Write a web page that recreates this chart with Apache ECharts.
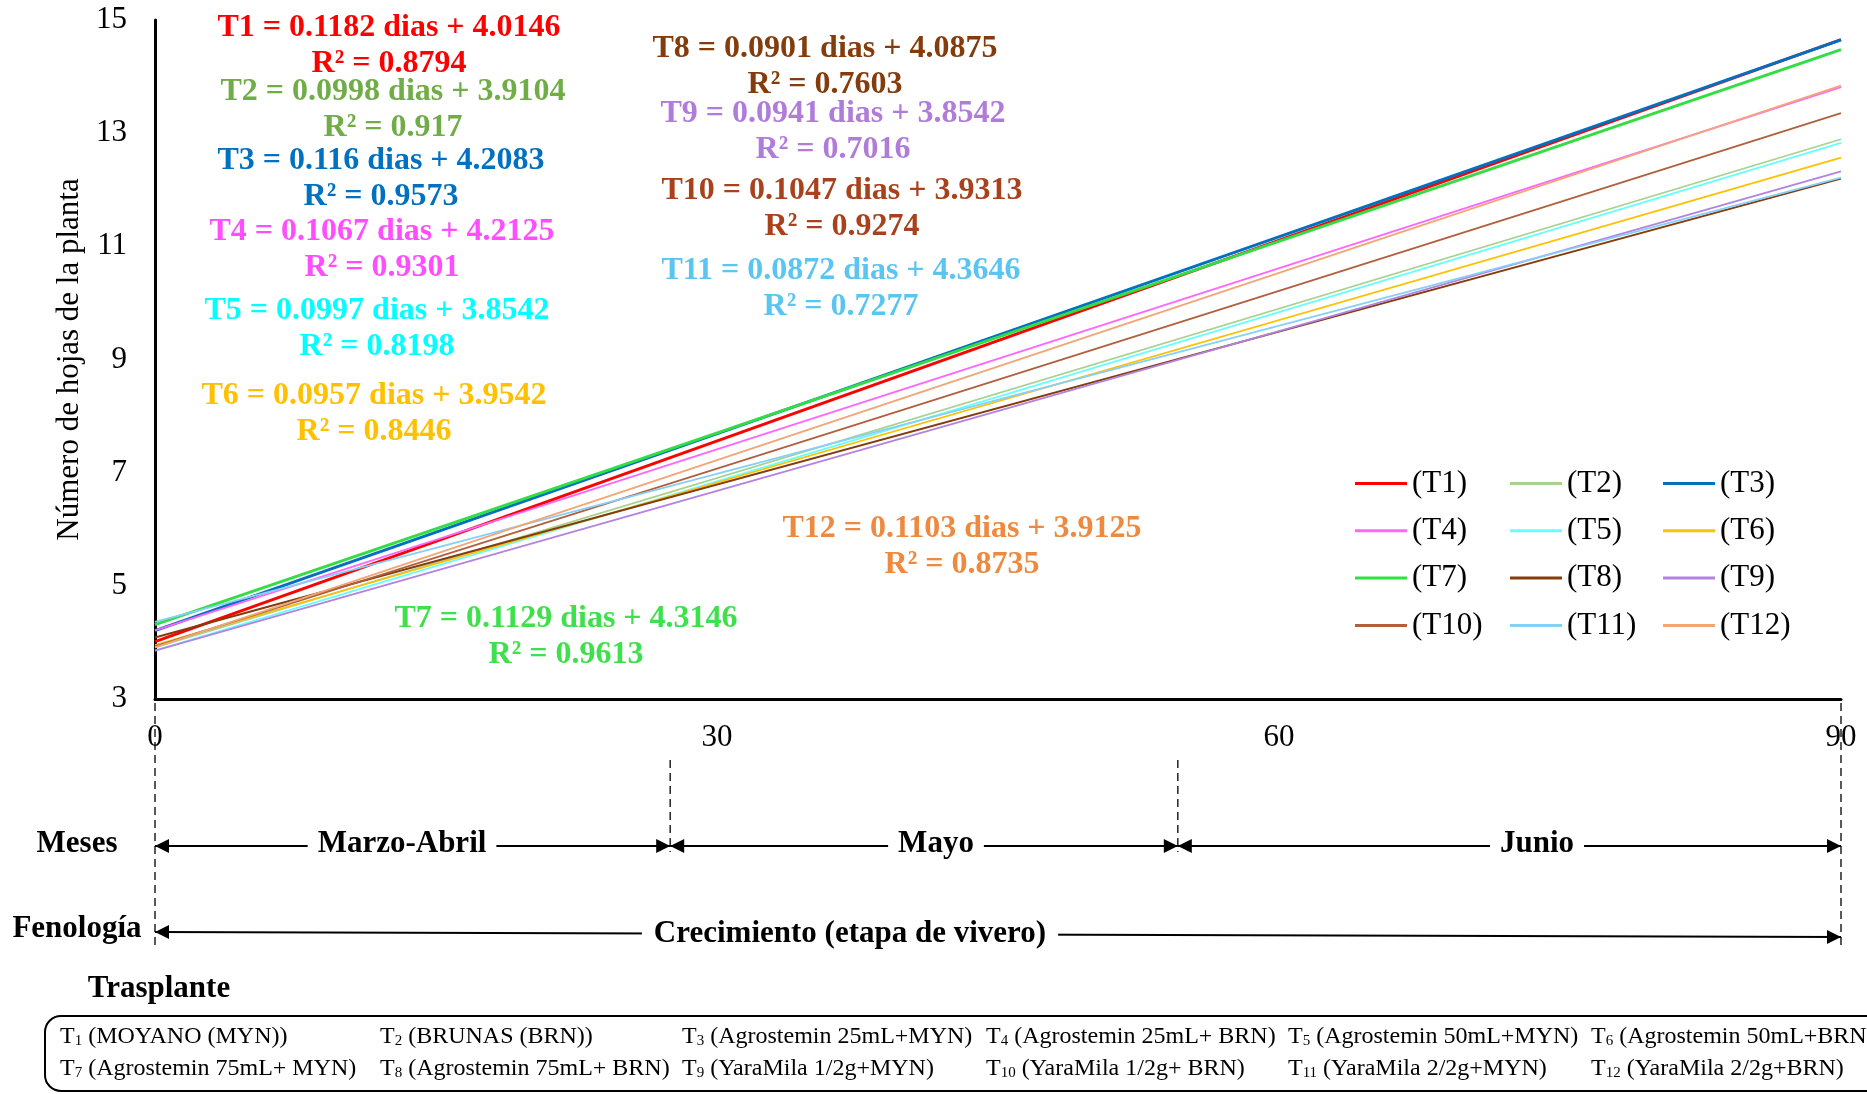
<!DOCTYPE html>
<html>
<head>
<meta charset="utf-8">
<title>Número de hojas de la planta</title>
<script src="https://cdn.jsdelivr.net/npm/echarts@6/dist/echarts.min.js"></script>
<style>
html, body { margin: 0; padding: 0; background: #fff; }
#testContainer { width: 1867px; height: 1094px; }
</style>
</head>
<body>
<div id="testContainer"></div>
<script>
// datos: rectas de regresion (dias 0 y 90)
var days = [0, 90];
var names = ['(T1)', '(T2)', '(T3)', '(T4)', '(T5)', '(T6)', '(T7)', '(T8)', '(T9)', '(T10)', '(T11)', '(T12)'];
var startVals = [4.0146, 3.9104, 4.2083, 4.2125, 3.8542, 3.9542, 4.3146, 4.0875, 3.8542, 3.9313, 4.3646, 3.9125];
var endVals = [14.6526, 12.8924, 14.6483, 13.8155, 12.8272, 12.5672, 14.4756, 12.1965, 12.3232, 13.3543, 12.2126, 13.8395];
var slopes = ['0.1182', '0.0998', '0.116', '0.1067', '0.0997', '0.0957', '0.1129', '0.0901', '0.0941', '0.1047', '0.0872', '0.1103'];
var intercepts = ['4.0146', '3.9104', '4.2083', '4.2125', '3.8542', '3.9542', '4.3146', '4.0875', '3.8542', '3.9313', '4.3646', '3.9125'];
var r2 = ['0.8794', '0.917', '0.9573', '0.9301', '0.8198', '0.8446', '0.9613', '0.7603', '0.7016', '0.9274', '0.7277', '0.8735'];
var months = ['Marzo-Abril', 'Mayo', 'Junio'];
var monthBounds = [0, 27.5, 54.6, 90];
var phase = 'Crecimiento (etapa de vivero)';
var treatments = [
    ['1', 'MOYANO (MYN))'], ['2', 'BRUNAS (BRN))'], ['3', 'Agrostemin 25mL+MYN)'],
    ['4', 'Agrostemin 25mL+ BRN)'], ['5', 'Agrostemin 50mL+MYN)'], ['6', 'Agrostemin 50mL+BRN)'],
    ['7', 'Agrostemin 75mL+ MYN)'], ['8', 'Agrostemin 75mL+ BRN)'], ['9', 'YaraMila 1/2g+MYN)'],
    ['10', 'YaraMila 1/2g+ BRN)'], ['11', 'YaraMila 2/2g+MYN)'], ['12', 'YaraMila 2/2g+BRN)']
];

// estilos
var serif = '"Liberation Serif", "Times New Roman", serif';
var lineColors = ['#FF0000', '#A9D18E', '#0070C0', '#FF66FF', '#66FFFF', '#FFC000', '#33DD44', '#843C0C', '#B383E0', '#B0603E', '#86D0F8', '#F2A577'];
var textColors = ['#FF0000', '#70AD47', '#0070C0', '#FF4DFF', '#00FFFF', '#FFC000', '#3EE04C', '#843C0C', '#B07CDA', '#A9421C', '#5BC5F2', '#ED8A3F'];
var lineWidths = [3, 1.8, 3, 1.8, 1.8, 1.8, 3, 2, 1.8, 1.8, 1.8, 1.8];
// posicion (centro) de cada ecuacion en pixeles
var eqPos = [[389, 28], [393, 92], [381, 161], [382, 232], [377, 311], [374, 396],
             [566, 619], [825, 49], [833, 114], [842, 191], [841, 271], [962, 529]];
var monthLabelX = [402, 936, 1537];

var testContainer = document.getElementById('testContainer');
var testChart = echarts.init(testContainer);

var series = names.map(function (n, i) {
    return {
        name: n,
        type: 'line',
        symbol: 'none',
        data: [[days[0], startVals[i]], [days[1], endVals[i]]],
        lineStyle: { color: lineColors[i], width: lineWidths[i] },
        itemStyle: { color: lineColors[i] },
        animation: false
    };
});

var legendLeft = [1355, 1510, 1663];
var legends = [0, 1, 2].map(function (c) {
    return {
        data: names.filter(function (n, i) { return i % 3 === c; }),
        orient: 'vertical',
        left: legendLeft[c],
        top: 468,
        padding: 0,
        icon: 'rect',
        itemWidth: 52,
        itemHeight: 3,
        itemGap: 16.3,
        selectedMode: false,
        textStyle: { fontFamily: serif, fontSize: 31, color: '#000', lineHeight: 31 }
    };
});

var option = {
    backgroundColor: '#fff',
    animation: false,
    grid: { left: 155, right: 26, top: 20, bottom: 395, outerBoundsMode: 'none' },
    legend: legends,
    xAxis: {
        type: 'value', min: 0, max: 90, interval: 30,
        axisLine: { lineStyle: { color: '#000', width: 3 } },
        axisTick: { show: false },
        splitLine: { show: false },
        axisLabel: { fontFamily: serif, fontSize: 31, color: '#000', margin: 23 }
    },
    yAxis: {
        type: 'value', min: 3, max: 15, interval: 2,
        name: 'Número de hojas de la planta',
        nameLocation: 'middle',
        nameGap: 68,
        nameTextStyle: { fontFamily: serif, fontSize: 31, color: '#000' },
        axisLine: { show: true, lineStyle: { color: '#000', width: 3 } },
        axisTick: { show: false },
        splitLine: { show: false },
        axisLabel: { fontFamily: serif, fontSize: 31, color: '#000', margin: 28 }
    },
    series: series
};
testChart.setOption(option);

// elementos graficos: ecuaciones, flechas de meses, fenologia y tratamientos
function txt(text, x, y, font, color, extra) {
    var st = { text: text, x: x, y: y, font: font, fill: color,
               align: 'center', verticalAlign: 'middle', textAlign: 'center', textVerticalAlign: 'middle' };
    if (extra) { for (var k in extra) st[k] = extra[k]; }
    return { type: 'text', z: 100, style: st };
}
function arrowHead(x, y, dir) {
    // dir = -1 apunta a la izquierda, 1 a la derecha
    return { type: 'polygon', z: 101, shape: { points: [[x, y], [x - dir * 14, y - 7], [x - dir * 14, y + 7]] },
             style: { fill: '#000' } };
}
function seg(x1, y1, x2, y2, dash) {
    return { type: 'line', z: 99, shape: { x1: x1, y1: y1, x2: x2, y2: y2 },
             style: { stroke: '#000', lineWidth: dash ? 1.3 : 1.8, lineDash: dash ? [8, 5] : null } };
}

var g = [];
var boldEq = 'bold 32px ' + serif;
for (var i = 0; i < names.length; i++) {
    g.push(txt('T' + (i + 1) + ' = ' + slopes[i] + ' dias + ' + intercepts[i], eqPos[i][0], eqPos[i][1], boldEq, textColors[i]));
    g.push(txt('R² = ' + r2[i], eqPos[i][0], eqPos[i][1] + 36, boldEq, textColors[i]));
}

var px = monthBounds.map(function (d) { return testChart.convertToPixel({ xAxisIndex: 0 }, d); });
var boldLbl = 'bold 31px ' + serif;
var mesY = 846;
// lineas discontinuas
g.push(seg(px[0], 703, px[0], 950, true));
g.push(seg(px[3], 703, px[3], 950, true));
g.push(seg(px[1], 760, px[1], 852, true));
g.push(seg(px[2], 760, px[2], 852, true));
// meses
g.push(txt('Meses', 77, 844, boldLbl, '#000'));
for (var m = 0; m < months.length; m++) {
    var a = px[m], b = px[m + 1];
    g.push(seg(a, mesY, b, mesY, false));
    g.push(arrowHead(a, mesY, -1));
    g.push(arrowHead(b, mesY, 1));
    g.push(txt(months[m], monthLabelX[m], 844, boldLbl, '#000', { backgroundColor: '#fff', padding: [0, 10] }));
}
// fenologia
g.push(txt('Fenología', 77, 929, boldLbl, '#000'));
g.push(seg(px[0], 932, px[3], 937, false));
g.push(arrowHead(px[0], 932, -1));
g.push(arrowHead(px[3], 937, 1));
g.push(txt(phase, 850, 934, boldLbl, '#000', { backgroundColor: '#fff', padding: [0, 12] }));
g.push(txt('Trasplante', 159, 989, boldLbl, '#000'));

// cuadro de tratamientos
g.push({ type: 'rect', z: 100, shape: { x: 45, y: 1016, width: 1860, height: 75, r: 16 },
         style: { fill: 'none', stroke: '#000', lineWidth: 2 } });
var colX = [60, 380, 682, 986, 1288, 1591];
var rowY = [1037, 1069];
for (var t = 0; t < treatments.length; t++) {
    g.push({
        type: 'text', z: 100,
        style: {
            text: '{a|T}{s|' + treatments[t][0] + '}{a| (' + treatments[t][1] + '}',
            x: colX[t % 6], y: rowY[Math.floor(t / 6)],
            verticalAlign: 'middle', textVerticalAlign: 'middle',
            rich: {
                a: { fontFamily: serif, fontSize: 24, fill: '#000', color: '#000' },
                s: { fontFamily: serif, fontSize: 15, fill: '#000', color: '#000', verticalAlign: 'bottom', padding: [8, 0, 0, 0] }
            }
        }
    });
}

testChart.setOption({ graphic: { elements: g } });

window.onresize = function () {
    testChart.resize();
};
</script>
</body>
</html>
